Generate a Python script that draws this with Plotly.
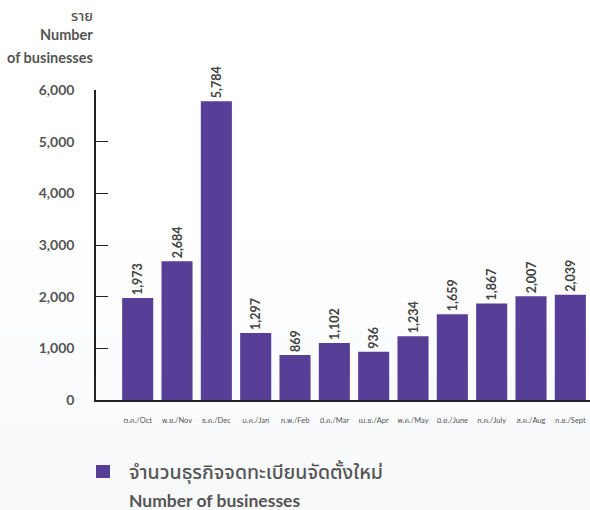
import plotly.graph_objects as go

months = ["ต.ค./Oct", "พ.ย./Nov", "ธ.ค./Dec", "ม.ค./Jan", "ก.พ./Feb", "มี.ค./Mar",
          "เม.ย./Apr", "พ.ค./May", "มิ.ย./June", "ก.ค./July", "ส.ค./Aug", "ก.ย./Sept"]
businesses = [1973, 2684, 5784, 1297, 869, 1102, 936, 1234, 1659, 1867, 2007, 2039]
y_ticks = [0, 1000, 2000, 3000, 4000, 5000, 6000]
y_tick_text = ["0", "1,000", "2,000", "3,000", "4,000", "5,000", "6,000"]
series_th = "จำนวนธุรกิจจดทะเบียนจัดตั้งใหม่"
series_en = "Number of businesses"

FONT = "Lato, 'Noto Sans', 'Noto Sans Thai', sans-serif"
GRAY = "#555555"
PURPLE = "#573e97"

W, H = 590, 510
L, R, T, B = 96, 0, 90, 110
pw, ph = W - L - R, H - T - B

def px(x):
    return (x - L) / pw

def py(y):
    return (H - B - y) / ph

fig = go.Figure()
fig.add_trace(go.Bar(
    x=months, y=businesses,
    marker=dict(color=PURPLE, line=dict(width=0)),
    text=[f"{v:,}" for v in businesses],
    textposition="outside", textangle=-90,
    textfont=dict(family=FONT, size=12.5, color="#444444", weight="bold"),
    constraintext="none", cliponaxis=False,
    showlegend=False, hoverinfo="skip",
))

shapes = []
# subtle vertical background gradient
bands = ["#fefefe", "#fdfdfe", "#fbfcfd", "#fafbfc", "#f9fafc", "#f8f9fb"]
start = 240
step = (H - start) / len(bands)
for i, c in enumerate(bands):
    shapes.append(dict(type="rect", xref="paper", yref="paper",
                       x0=px(0), x1=px(W), y0=py(start + (i + 1) * step), y1=py(start + i * step),
                       fillcolor=c, line=dict(width=0), layer="below"))
# legend square
shapes.append(dict(type="rect", xref="paper", yref="paper",
                   x0=px(96), x1=px(110), y0=py(478), y1=py(465),
                   fillcolor=PURPLE, line=dict(width=0)))

annotations = [
    dict(text="ราย", x=px(95), y=py(16), w=500),
    dict(text="Number", x=px(95), y=py(35), w="bold"),
    dict(text="of businesses", x=px(95), y=py(57), w="bold"),
]
for a in annotations:
    w = a.pop("w")
    a.update(xref="paper", yref="paper", xanchor="right", yanchor="middle", showarrow=False,
             font=dict(family=FONT, size=14.5, color=GRAY, weight=w))
annotations.append(dict(text=series_th, x=px(127), y=py(472), xref="paper", yref="paper",
                        xanchor="left", yanchor="middle", showarrow=False,
                        font=dict(family=FONT, size=19.5, color=GRAY, weight=500)))
annotations.append(dict(text=series_en, x=px(127), y=py(501), xref="paper", yref="paper",
                        xanchor="left", yanchor="middle", showarrow=False,
                        font=dict(family=FONT, size=17.5, color=GRAY, weight="bold")))

fig.update_layout(
    width=W, height=H,
    margin=dict(l=L, r=R, t=T, b=B, pad=0),
    paper_bgcolor="#ffffff", plot_bgcolor="rgba(0,0,0,0)",
    bargap=0.21,
    shapes=shapes, annotations=annotations,
    font=dict(family=FONT, color=GRAY),
    xaxis=dict(range=[-1.06, 11.5], showline=True, linecolor="#222222", linewidth=1.5,
               ticks="", showgrid=False, zeroline=False, fixedrange=True,
               tickfont=dict(family=FONT, size=7.5, color=GRAY), ticklabelstandoff=12),
    yaxis=dict(range=[0, 6000], tickvals=y_ticks, ticktext=y_tick_text,
               showline=True, linecolor="#222222", linewidth=1.5,
               ticks="inside", ticklen=12, tickwidth=1.2, tickcolor="#222222",
               showgrid=False, zeroline=False, fixedrange=True,
               tickfont=dict(family=FONT, size=14, color=GRAY, weight="bold"),
               ticklabelstandoff=17),
)

fig.write_html("out.html", config={"displayModeBar": False},
               post_script="document.body.style.margin='0';document.body.style.padding='0';document.body.style.overflow='hidden';")
